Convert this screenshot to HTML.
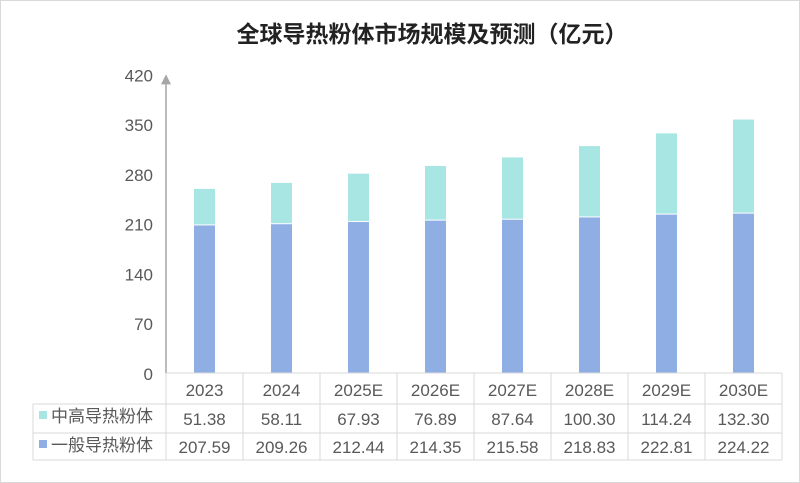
<!DOCTYPE html>
<html><head><meta charset="utf-8"><style>
html,body{margin:0;padding:0;background:#fff;}
#wrap{position:relative;width:798px;height:481px;border:1px solid #d9d9d9;background:#fff;overflow:hidden;}
text{font-family:"Liberation Sans","Noto Sans CJK SC",sans-serif;}
</style></head><body>
<div id="wrap">
<svg id="chart" width="800" height="483"></svg>
</div>
<script>
const categories=["2023","2024","2025E","2026E","2027E","2028E","2029E","2030E"];
const seriesNames=["中高导热粉体","一般导热粉体"];
const highEnd=[51.38,58.11,67.93,76.89,87.64,100.30,114.24,132.30];
const general=[207.59,209.26,212.44,214.35,215.58,218.83,222.81,224.22];
const yTicks=[0,70,140,210,280,350,420];
const colors=["#a8e6e3","#8faee3"];
const NS="http://www.w3.org/2000/svg";
const svg=document.getElementById('chart');
const x0=165,colW=77,y0=372,yMax=420,yTop=73.4,barW=21;
function y(v){return y0-(v/yMax)*(y0-yTop);}
function xc(i){return x0+colW*i+colW/2;}
function mk(tag,attrs,txt){const e=document.createElementNS(NS,tag);for(const k in attrs)e.setAttribute(k,attrs[k]);if(txt!==undefined)e.textContent=txt;svg.appendChild(e);return e;}
let t=mk('text',{x:431,y:41,'text-anchor':'middle','font-size':23,'font-weight':'bold',fill:'#222'},'全球导热粉体市场规模及预测（亿元）');


yTicks.forEach(v=>{const e=mk('text',{x:152,y:y(v)+7,'text-anchor':'end','font-size':17,fill:'#595959'},v);

});
categories.forEach((c,i)=>{
 const b1=mk('rect',{x:xc(i)-barW/2,y:y(general[i]),width:barW,height:y0-y(general[i]),fill:colors[1]});
 
 
 const b2=mk('rect',{x:xc(i)-barW/2,y:y(general[i]+highEnd[i]),width:barW,height:y(general[i])-y(general[i]+highEnd[i])-1,fill:colors[0]});
 
 
});
const ax=mk('line',{x1:x0,y1:y0,x2:x0,y2:yTop+8,stroke:'#a6a6a6','stroke-width':1.5});


const ar=mk('polygon',{points:`${x0-5},${yTop+10} ${x0+5},${yTop+10} ${x0},${yTop}`,fill:'#a6a6a6'});


const gc='#d9d9d9';
const xEnd=x0+colW*categories.length;
function ln(a,b,c,d){const l=mk('line',{x1:a,y1:b,x2:c,y2:d,stroke:gc,'stroke-width':1});}
ln(x0,372,xEnd,372);
ln(32,403,xEnd,403);ln(32,432,xEnd,432);ln(32,459,xEnd,459);
ln(32,403,32,459);
for(let i=0;i<=categories.length;i++)ln(x0+colW*i,372,x0+colW*i,459);
categories.forEach((c,i)=>{
 const e=mk('text',{x:xc(i),y:395,'text-anchor':'middle','font-size':17,fill:'#595959'},c);
 
 
 const v1=mk('text',{x:xc(i),y:424,'text-anchor':'middle','font-size':17,fill:'#595959'},highEnd[i].toFixed(2));
 
 
 const v2=mk('text',{x:xc(i),y:452,'text-anchor':'middle','font-size':17,fill:'#595959'},general[i].toFixed(2));
 
 
});
seriesNames.forEach((n,k)=>{
 const ry=k===0?417:446;
 const sw=mk('rect',{x:38,y:ry-7,width:8,height:8,fill:colors[k]});
 
 
 const lt=mk('text',{x:50,y:ry+4,'font-size':17,fill:'#595959'},n);
 
 
});
</script>
</body></html>
